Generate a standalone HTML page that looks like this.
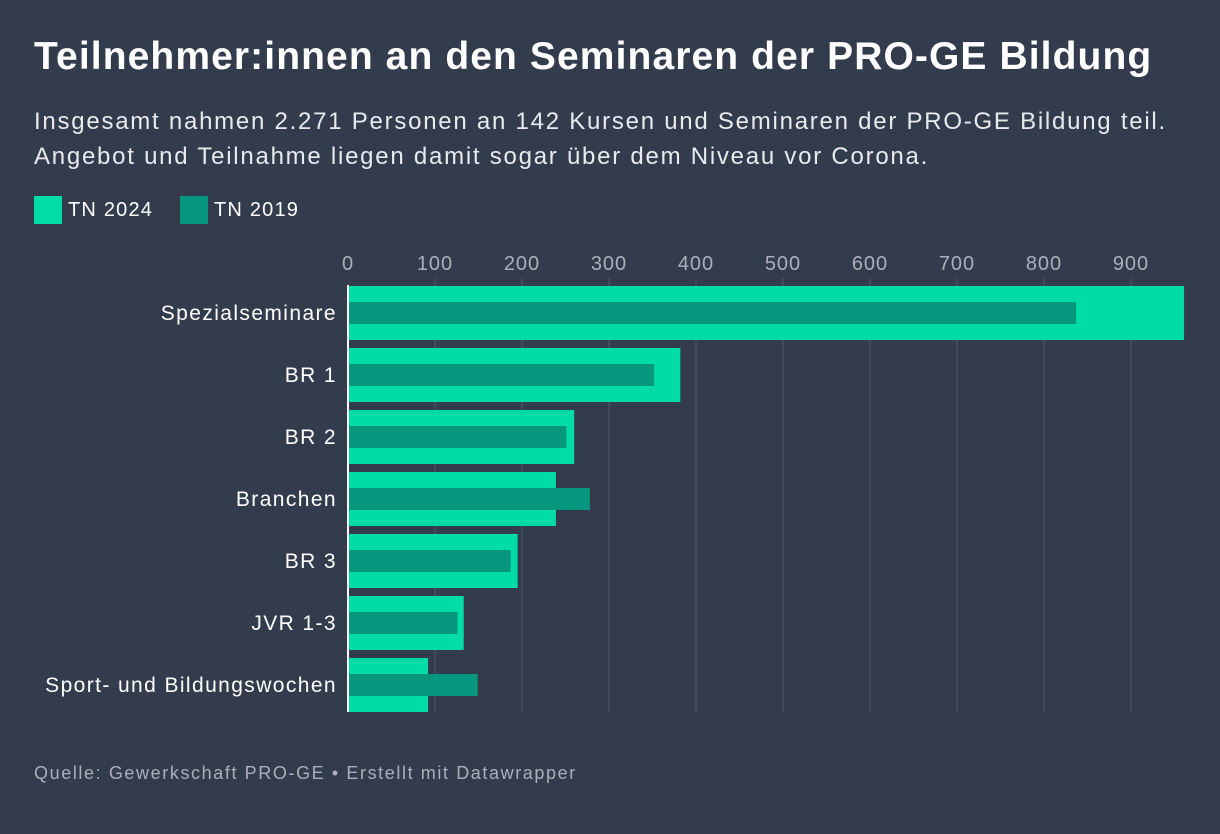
<!DOCTYPE html>
<html><head><meta charset="utf-8"><style>
body{margin:0;width:1220px;height:834px;background:#333c4c;font-family:"Liberation Sans",sans-serif;color:#fff;overflow:hidden;position:relative}
.t{position:absolute;left:34px;top:35px;font-size:39px;font-weight:bold;letter-spacing:1.1px;white-space:nowrap}
.s{position:absolute;left:34px;top:104px;font-size:24px;line-height:35px;color:#e8eaee;letter-spacing:1.75px;white-space:nowrap}
.lg{position:absolute;top:196px;font-size:20px;display:flex;align-items:center;letter-spacing:1.2px}
.lg i{display:inline-block;width:28px;height:28px;margin-right:6px}
.f{position:absolute;left:34px;top:763px;font-size:18px;color:#aab0ba;letter-spacing:1.6px;white-space:nowrap}
</style></head><body>
<div class="t">Teilnehmer:innen an den Seminaren der PRO-GE Bildung</div>
<div class="s">Insgesamt nahmen 2.271 Personen an 142 Kursen und Seminaren der PRO-GE Bildung teil.<br>Angebot und Teilnahme liegen damit sogar über dem Niveau vor Corona.</div>
<div class="lg" style="left:34px"><i style="background:#00dca8"></i>TN 2024</div>
<div class="lg" style="left:180px"><i style="background:#07977f"></i>TN 2019</div>
<svg id="c" width="1220" height="834" style="position:absolute;left:0;top:0"></svg>
<div class="f">Quelle: Gewerkschaft PRO-GE • Erstellt mit Datawrapper</div>
<script>
const categories=["Spezialseminare","BR 1","BR 2","Branchen","BR 3","JVR 1-3","Sport- und Bildungswochen"];
const tn2024=[961,382,260,239,195,133,92];
const tn2019=[837,352,251,278,187,126,149];
const ticks=[0,100,200,300,400,500,600,700,800,900];
const NS="http://www.w3.org/2000/svg";
const svg=document.getElementById('c');
const x=v=>348+v*0.87;
const rowC=i=>313+i*62;
function mk(t,a){const e=document.createElementNS(NS,t);for(const k in a)e.setAttribute(k,a[k]);svg.appendChild(e);return e;}
ticks.forEach(t=>{
 if(t>0){const l=mk('line',{x1:x(t),x2:x(t),y1:278,y2:712,stroke:'#4f5868','stroke-width':1});
 
 }
 const tx=mk('text',{x:x(t),y:270,'text-anchor':'middle','font-size':20,fill:'#aab0ba','letter-spacing':1});
 tx.textContent=t;
 
 
});
categories.forEach((c,i)=>{
 const cy=rowC(i);
 const a=mk('rect',{x:x(0),y:cy-27,width:x(tn2024[i])-x(0),height:54,fill:'#00dca8'});
 
 
 const b=mk('rect',{x:x(0),y:cy-11,width:x(tn2019[i])-x(0),height:22,fill:'#07977f'});
 
 
 const t=mk('text',{x:337,y:cy+7,'text-anchor':'end','font-size':21,fill:'#fff','letter-spacing':1.4});
 t.textContent=c;
 
 
});
const ax=mk('line',{x1:348,x2:348,y1:285,y2:712,stroke:'#fff','stroke-width':2});


</script>
</body></html>
